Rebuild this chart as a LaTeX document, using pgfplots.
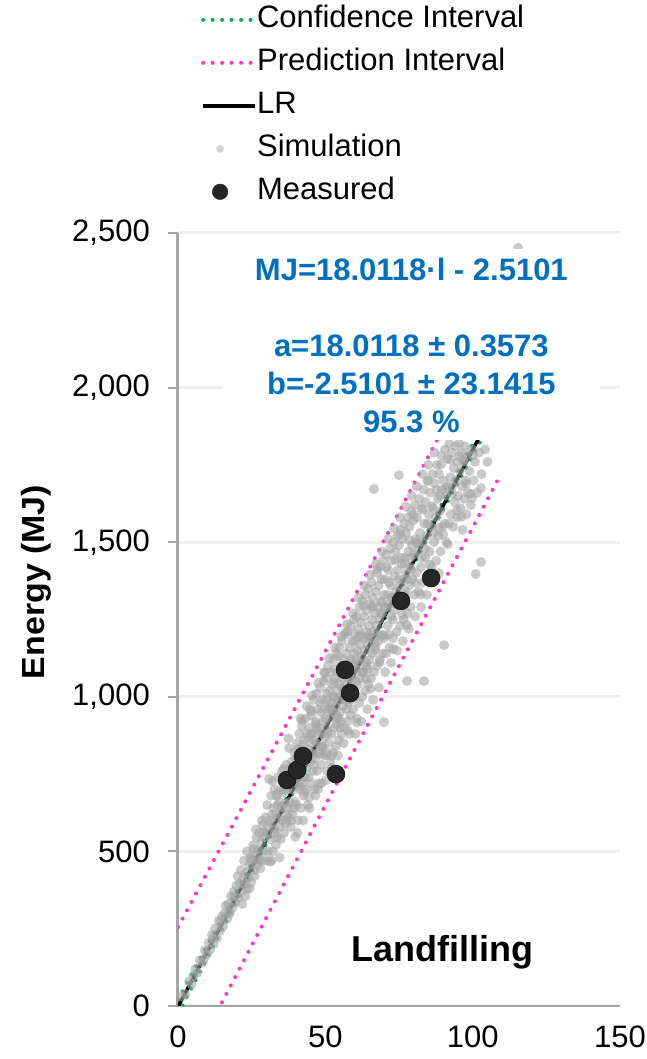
\documentclass[border=0pt]{standalone}
\usepackage{fontspec}
\setmainfont{Liberation Sans}
\usepackage{graphicx}
\usepackage{pgfplots}
\pgfplotsset{compat=1.18}

\definecolor{cigreen}{HTML}{00B050}
\definecolor{pimag}{HTML}{FF33CC}
\definecolor{eqblue}{HTML}{0070C0}
\definecolor{simgray}{HTML}{A6A6A6}
\definecolor{meas}{HTML}{262626}
\definecolor{axgray}{HTML}{A6A6A6}
\definecolor{gridgray}{HTML}{EFEFEF}

\pgfplotsset{
  linelegend/.style={legend image code/.code={\draw[##1] (0pt,0pt) -- (52pt,0pt);}},
  dots/.style={line width=4pt, line cap=round, dash pattern=on 0pt off 9.5pt},
}

\begin{document}
\begin{tikzpicture}
\path[use as bounding box] (-178pt,-53pt) rectangle (468pt,1006pt);
\begin{axis}[
  scale only axis, width=442pt, height=773pt,
  xmin=0, xmax=150, ymin=0, ymax=2500,
  xtick={0,50,100,150}, ytick={0,500,1000,1500,2000,2500},
  axis lines*=left,
  x axis line style={axgray, line width=2pt},
  y axis line style={axgray, line width=3pt},
  xtick style={draw=none},
  ytick style={axgray, line width=2pt},
  major tick length=10pt, tick align=outside,
  ymajorgrids, grid style={gridgray, line width=3pt},
  tick label style={font=\fontsize{31}{37}\selectfont},
  yticklabel style={inner sep=0pt, xshift=-18pt},
  xticklabel style={inner sep=0pt, yshift=-10pt},
  /pgf/number format/assume math mode=true,
  /pgf/number format/1000 sep={,},
  scaled y ticks=false,
  ylabel={\scalebox{1.06}[1]{Energy (MJ)}},
  ylabel style={font=\bfseries\fontsize{32}{38}\selectfont,
    at={(axis description cs:-0.321,0.5485)}, anchor=center},
  legend cell align=left,
  legend style={draw=none, fill=none,
    at={(axis description cs:0.045,1.298)}, anchor=north west,
    font=\fontsize{31}{37}\selectfont,
    nodes={inner sep=0pt, text height=23pt, text depth=7pt},
    row sep=13pt},
  /tikz/every even column/.append style={column sep=6pt},
]

% confidence interval (upper, lower)
\addplot[cigreen, dots, linelegend]
coordinates {(0,20.5)(10,197.2)(20,373.7)(30,550.5)(40,728.3)(50,906.5)(60,1086.2)(70,1266.7)(80,1448.7)(90,1631.2)(109,1985)};
\addlegendentry{Confidence Interval}
\addplot[cigreen, dots, forget plot]
coordinates {(0,-25.5)(10,158.0)(20,341.7)(30,525.3)(40,707.7)(50,889.7)(60,1070.2)(70,1249.9)(80,1428.1)(90,1606.0)(109,1937)};

% prediction interval (upper, lower)
\addplot[pimag, dots, linelegend]
coordinates {(0,255.5)(20,610.7)(40,968.0)(60,1326.2)(80,1687.4)(100,2049.7)(109,2213.8)};
\addlegendentry{Prediction Interval}
\addplot[pimag, dots, forget plot]
coordinates {(0,-260.5)(20,104.7)(40,468.0)(60,830.2)(80,1189.4)(100,1547.7)(108.6,1702.5)};

% linear regression
\addplot[black, line width=3.5pt, linelegend]
coordinates {(0,-2.5)(50,898.1)(109,1960.8)};
\addlegendentry{LR}

% simulation
\addplot[simgray, only marks, mark=*, mark size=5pt,
  mark options={draw opacity=0, fill opacity=0.6},
  legend image code/.code={\fill[simgray!50] (17pt,0pt) circle (3.6pt);}]
coordinates {
(1.2,30)(2.5,38)(3.8,80)(4.6,70)(5.9,120)(6.7,108)(7.4,148)(8.3,140)(9.1,180)(9.8,168)
(10.4,205)(10.9,182)(11.5,230)(12.1,200)(12.6,250)(13.2,220)(13.8,275)(14.3,245)(14.9,290)(15.3,258)
(15.8,300)(16.2,325)(16.7,282)(17.1,330)(17.6,300)(18.0,355)(18.5,318)(18.9,370)(19.4,335)(19.8,390)
(20.2,420)(20.5,350)(20.9,395)(21.3,440)(21.6,372)(22.0,410)(22.4,470)(22.7,395)(23.1,430)(23.4,500)
(23.8,415)(24.1,455)(24.5,480)(24.8,400)(25.2,470)(25.5,520)(25.9,440)(26.2,490)(26.6,545)(26.9,455)
(27.3,505)(27.6,560)(28.0,470)(28.3,530)(28.7,585)(29.0,500)(29.4,545)(29.7,610)(21.8,330)(24.3,380)
(26.0,420)(27.9,445)(29.1,470)(22.9,355)(28.5,600)
(30.1,560)(30.3,650)(30.6,500)(30.9,734)(31.1,600)(31.4,540)(31.6,680)(31.9,590)(32.2,500)(32.4,640)
(32.7,700)(32.9,560)(33.1,620)(33.4,680)(33.6,545)(33.9,740)(34.1,610)(34.3,660)(34.6,580)(34.8,700)
(35.0,640)(35.3,760)(35.5,600)(35.7,690)(36.0,560)(36.2,720)(36.4,655)(36.7,780)(36.9,620)(37.1,700)
(37.4,745)(37.7,834)(37.9,660)(38.1,720)(38.4,600)(38.6,790)(38.8,700)(39.1,760)(39.3,640)(39.5,820)
(39.8,730)(30.4,470)(31.8,470)(33.2,520)(34.9,540)(36.5,590)(37.6,610)(38.9,620)(39.7,660)(32.0,620)
(35.9,700)(37.2,640)(33.7,650)(38.3,770)(39.9,800)
(40.1,780)(40.2,650)(40.4,850)(40.6,720)(40.8,600)(41.0,800)(41.2,880)(41.3,700)(41.5,760)(41.7,640)
(41.9,830)(42.0,905)(42.2,720)(42.4,790)(42.6,680)(42.8,860)(42.9,740)(43.1,810)(43.3,930)(43.5,700)
(43.6,770)(43.8,880)(44.0,830)(44.1,650)(44.3,740)(44.5,900)(44.7,960)(44.8,790)(45.0,850)(45.2,720)
(45.3,940)(45.5,820)(45.7,880)(45.8,760)(46.0,990)(46.2,860)(46.3,700)(46.5,800)(46.7,920)(46.9,850)
(47.0,1010)(47.2,760)(47.4,890)(47.5,960)(47.7,820)(47.9,720)(48.0,900)(48.2,1030)(48.4,840)(48.5,950)
(48.7,780)(48.9,880)(49.0,990)(49.2,920)(49.4,1050)(49.5,810)(49.7,870)(49.9,960)(40.5,560)(42.5,600)
(44.6,640)(46.6,680)(48.6,720)(41.6,930)(43.7,970)(45.6,1005)(47.6,1045)(49.6,1080)(41.1,760)(43.0,740)
(45.1,880)(47.1,900)(49.1,840)(42.3,845)(44.2,870)(46.1,780)(48.1,815)
(50.0,930)(50.1,1060)(50.3,820)(50.4,990)(50.6,760)(50.7,900)(50.9,1100)(51.0,960)(51.2,850)(51.3,1020)
(51.5,930)(51.7,790)(51.8,1080)(52.0,980)(52.1,880)(52.3,1040)(52.5,950)(52.6,820)(52.8,1120)(52.9,1000)
(53.1,900)(53.2,1060)(53.4,970)(53.6,840)(53.7,1140)(53.9,1020)(54.0,930)(54.2,1080)(54.4,990)(54.5,860)
(54.7,1160)(54.8,1040)(55.0,950)(55.2,1100)(55.3,1000)(55.5,880)(55.6,1180)(55.8,1060)(56.0,970)(56.1,1120)
(56.3,1020)(56.5,900)(56.6,1200)(56.8,1080)(57.0,990)(57.1,1140)(57.3,1040)(57.5,920)(57.6,1210)(57.8,1100)
(58.0,1010)(58.1,1160)(58.3,1060)(58.5,940)(58.6,1230)(58.8,1120)(59.0,1030)(59.1,1180)(59.3,1080)(59.5,960)
(59.7,1250)(59.9,1140)(50.2,730)(52.2,770)(54.3,810)(56.2,850)(58.2,880)(51.4,1125)(53.3,1160)(55.4,1195)
(57.4,1235)(59.4,1270)(50.8,880)(52.7,1000)(54.6,930)(56.4,1080)(58.4,990)(51.9,960)(53.8,910)(55.7,1030)
(57.7,980)(59.6,1100)(50.5,1010)(53.0,1090)(55.1,900)(57.2,960)
(60.0,1180)(60.1,1000)(60.3,1090)(60.5,1260)(60.6,930)(60.8,1150)(61.0,1040)(61.1,1220)(61.3,1110)(61.5,980)
(61.6,1290)(61.8,1170)(62.0,1060)(62.1,1240)(62.3,1130)(62.5,1000)(62.6,1310)(62.8,1190)(63.0,1080)(63.1,1260)
(63.3,1150)(63.5,1020)(63.6,1330)(63.8,1210)(64.0,1100)(64.1,1280)(64.3,1170)(64.5,1040)(64.6,1350)(64.8,1230)
(65.0,1120)(65.1,1300)(65.3,1190)(65.5,1060)(65.6,1370)(65.8,1250)(66.0,1140)(66.1,1320)(66.3,1210)(66.5,1080)
(66.5,1672)(66.8,1270)(67.0,1160)(67.1,1340)(67.3,1230)(67.5,1100)(67.6,1400)(67.8,1290)(68.0,1180)(68.1,1360)
(68.3,1250)(68.5,1120)(68.6,1420)(68.8,1310)(69.0,1200)(69.1,1380)(69.3,1270)(69.5,1140)(69.6,1440)(69.9,918)
(69.8,1330)(60.2,880)(62.2,920)(64.2,960)(66.2,990)(68.2,1030)(61.2,1320)(63.2,1360)(65.2,1395)(67.2,1430)
(69.2,1470)(60.7,1120)(62.7,1080)(64.7,1200)(66.7,1150)(68.7,1270)(61.9,1200)(63.9,1110)(65.9,1290)(67.9,1200)
(60.4,1050)(64.4,1090)
(70.0,1190)(70.2,1380)(70.4,1290)(70.6,1140)(70.8,1460)(71.0,1330)(71.2,1230)(71.4,1410)(71.6,1300)(71.8,1160)
(72.0,1480)(72.2,1360)(72.4,1260)(72.6,1440)(72.8,1320)(73.0,1190)(73.2,1500)(73.4,1390)(73.6,1280)(73.8,1470)
(74.0,1340)(74.2,1210)(74.4,1520)(74.6,1410)(74.8,1300)(75.0,1717)(75.0,1490)(75.2,1360)(75.4,1230)(75.6,1540)
(75.8,1430)(76.0,1320)(76.2,1510)(76.4,1380)(76.6,1250)(76.8,1560)(77.0,1450)(77.2,1340)(77.4,1530)(77.6,1400)
(77.7,1051)(77.8,1270)(78.0,1580)(78.2,1470)(78.4,1360)(78.6,1550)(78.8,1420)(79.0,1290)(79.2,1600)(79.4,1490)
(79.6,1380)(79.8,1570)(70.3,1080)(72.3,1110)(74.3,1150)(76.3,1180)(78.3,1220)(71.3,1510)(73.3,1545)(75.3,1580)
(77.3,1615)(79.3,1650)(70.9,1290)(72.9,1250)(74.9,1380)(76.9,1330)(78.9,1450)(71.7,1370)(73.7,1300)(75.7,1450)
(77.9,1380)
(80.0,1460)(80.2,1330)(80.4,1620)(80.7,1510)(80.9,1400)(81.1,1580)(81.4,1470)(81.6,1340)(81.9,1640)(82.1,1530)
(82.4,1420)(82.6,1610)(82.9,1500)(83.1,1370)(83.4,1670)(83.5,1051)(83.6,1560)(83.9,1450)(84.1,1630)(84.4,1520)
(84.6,1390)(84.9,1700)(85.1,1590)(85.4,1470)(85.6,1660)(85.9,1550)(86.1,1420)(86.4,1720)(86.6,1610)(86.9,1500)
(87.1,1690)(87.4,1580)(87.6,1440)(87.9,1750)(88.1,1640)(88.4,1520)(88.6,1720)(88.9,1600)(89.1,1470)(89.4,1780)
(89.6,1670)(89.9,1550)(90.3,1167)(80.5,1260)(82.5,1290)(84.5,1330)(86.5,1370)(88.5,1400)(81.0,1680)(83.0,1720)
(85.0,1750)(87.0,1790)(80.8,1500)(82.8,1450)(84.8,1560)(86.8,1530)(88.8,1650)
(90.1,1700)(90.4,1560)(90.6,1800)(90.9,1650)(91.1,1500)(91.4,1770)(91.6,1680)(91.9,1560)(92.1,1820)(92.4,1710)
(92.6,1590)(92.9,1790)(93.1,1680)(93.4,1550)(93.6,1740)(93.9,1630)(94.1,1810)(94.4,1700)(94.6,1580)(94.9,1760)
(95.1,1650)(95.4,1820)(95.6,1730)(95.9,1610)(96.1,1790)(96.4,1680)(96.6,1540)(96.9,1760)(97.1,1640)(97.4,1810)
(97.6,1700)(97.9,1590)(98.1,1780)(98.4,1660)(98.9,1730)(99.4,1620)(99.8,1800)(100.3,1700)(101.0,1397)(102.8,1436)
(100.8,1760)(101.5,1660)(102.2,1790)(103.0,1720)(104.2,1800)(105.0,1760)(102.8,1675)(99.8,1643)(115.4,2452)
(30.45,583)(31.22,467)(32.05,727)(32.88,572)(33.63,685)(34.47,480)(35.21,644)(35.96,767)(36.73,601)(37.52,865)
(38.27,579)(39.06,758)(39.84,547)(40.62,831)(41.37,710)(42.14,924)(42.93,693)(43.69,811)(44.45,675)(45.24,954)
(45.99,813)(46.77,912)(47.53,701)(48.31,980)(49.08,838)(49.86,1077)(50.62,811)(51.41,965)(52.17,809)(52.95,1048)
(53.72,942)(54.49,1131)(55.27,920)(56.03,1024)(56.82,1208)(57.58,891)(58.36,1115)(59.13,1059)(59.91,1203)(60.68,917)
(61.44,1196)(62.23,1080)(62.99,1294)(63.76,1058)(64.52,1191)(65.31,1026)(66.07,1294)(66.85,1173)(67.62,1412)(68.38,1111)
(69.17,1305)(69.93,1199)(70.71,1418)(71.47,1201)(72.26,1321)(73.02,1154)(73.79,1443)(74.57,1302)(75.34,1526)(76.11,1265)
(76.88,1429)(77.65,1233)(78.43,1507)(79.2,1411)(79.97,1589)(80.74,1368)(81.52,1497)(82.29,1331)(83.06,1605)(83.83,1479)
(84.61,1698)(85.38,1427)(86.15,1616)(86.92,1400)(87.7,1669)(88.47,1547)(89.24,1751)(90.02,1525)(90.79,1674)(91.56,1493)
(92.33,1767)(93.11,1656)(93.88,1850)(94.65,1604)(95.42,1778)(96.2,1582)(96.97,1765)(97.74,1689)(98.51,1883)(99.29,1657)
(100.06,1781)(23.35,380)(25.67,507)(27.14,474)(28.92,561)(26.45,571)(24.72,475)(19.1,354)(17.35,304)(14.6,275)
(11.9,219)(8.8,152)(5.3,99)
};
\addlegendentry{Simulation}

% measured
\addplot[only marks, mark=*, mark size=9pt, mark options={draw=none, fill=meas},
  legend image code/.code={\fill[meas] (17pt,0pt) circle (7.8pt);}]
coordinates {(37.0,731)(40.4,763)(42.4,808)(53.6,750)(56.7,1087)(58.4,1012)(75.7,1310)(85.9,1384)};
\addlegendentry{Measured}

\coordinate (eqbox) at (axis cs:79.2,2139);
\coordinate (eqtext) at (axis cs:79.2,2136);
\node[font=\bfseries\fontsize{36}{43}\selectfont] at (axis cs:89.9,174.6) {Landfilling};
\end{axis}

% white box behind the regression text, drawn over the markers
\node[fill=white, inner sep=0pt, minimum width=377pt, minimum height=191pt] at (eqbox) {};
\node[text=eqblue, font=\bfseries\fontsize{31}{38}\selectfont, align=center, inner sep=0pt]
  at (eqtext) {MJ=18.0118·l - 2.5101\\[38pt]a=18.0118 ± 0.3573\\b=-2.5101 ± 23.1415\\95.3 \%};
\end{tikzpicture}
\end{document}
